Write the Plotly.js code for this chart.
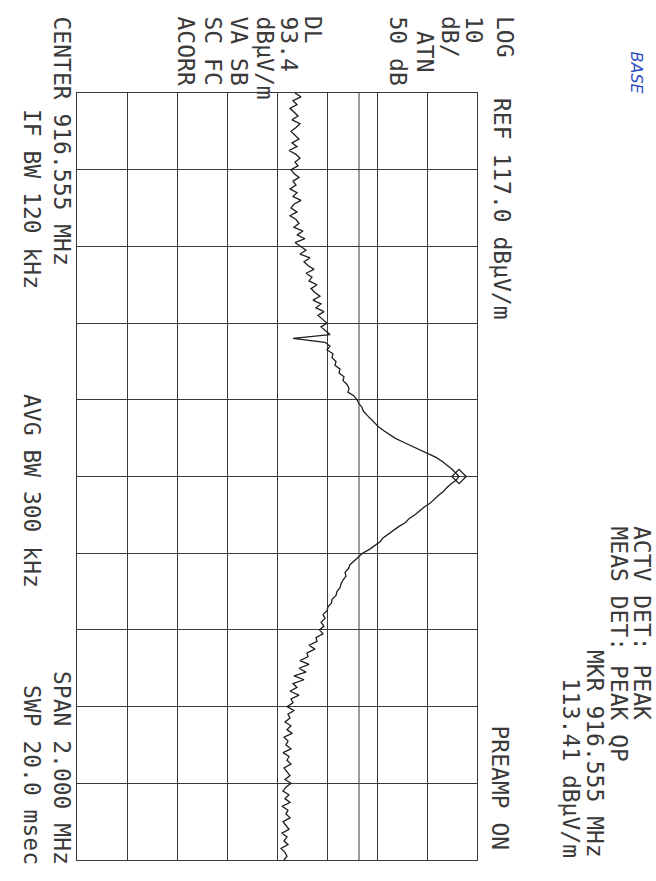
<!DOCTYPE html>
<html>
<head>
<meta charset="utf-8">
<script src="https://cdn.plot.ly/plotly-3.0.1.min.js"></script>
<style>html,body{margin:0;padding:0;background:#fff;}#chart{width:656px;height:881px;}</style>
</head>
<body>
<div id="chart"></div>
<script>
// ---- instrument settings ----
const startFreqMHz = 915.555;
const centerFreqMHz = 916.555;
const spanMHz = 2.0;
const refLevel = 117.0;      // dBuV/m (top of screen)
const dbPerDiv = 10;
const numDivsAmp = 8;
const numDivsFreq = 10;
const displayLine = 93.4;    // DL
const markerFreq = 916.555;
const markerAmp = 113.41;

// ---- trace amplitudes (dBuV/m), 201 sweep points ----
const amplitude = [
 80.6,81.8,80.2,81.0,79.6,80.4,81.2,80.0,81.6,80.8,
 79.8,80.6,81.4,80.0,81.0,79.4,80.8,81.6,80.6,81.2,
 79.8,80.4,81.4,80.2,80.8,79.6,81.0,80.2,81.8,80.4,
 79.8,81.0,79.6,80.8,81.4,80.4,82.2,81.0,82.6,80.6,
 81.8,82.8,81.6,83.6,82.4,83.2,84.4,82.8,84.0,83.4,
 85.0,83.8,84.6,85.6,84.2,85.8,84.8,86.4,85.2,86.0,
 87.0,85.8,86.8,87.6,80.2,86.6,87.6,87.0,88.2,88.0,
 88.8,88.6,89.6,89.4,90.4,90.2,91.0,91.4,91.2,92.4,
 93.0,93.4,94.0,94.3,95.0,95.7,96.5,97.3,98.3,99.4,
 100.6,102.2,103.8,105.5,107.2,108.8,110.0,111.0,111.9,112.7,
 113.4,112.8,111.7,110.9,110.2,109.2,108.3,107.6,106.4,105.5,
 104.6,103.4,102.7,101.4,100.3,99.4,98.2,97.6,96.6,95.5,
 94.1,93.2,92.5,91.6,91.3,90.6,90.8,90.2,89.8,89.6,
 89.0,88.8,88.0,87.9,87.2,87.0,86.2,86.6,85.8,86.4,
 85.5,86.2,84.8,85.0,83.4,84.6,83.0,83.2,81.6,83.4,
 81.4,82.8,80.4,82.4,80.2,81.0,79.6,81.4,79.8,80.2,
 79.0,80.4,79.2,79.6,78.6,79.8,79.0,80.0,78.4,79.2,
 78.8,79.8,78.2,79.4,79.0,79.8,78.4,79.0,79.6,78.6,
 79.8,78.8,78.2,79.4,78.6,79.6,78.0,79.2,78.8,79.6,
 78.2,78.8,79.4,78.0,79.0,78.4,79.2,77.8,78.6,79.0,
 78.4
];

// ---- screen annotation text ----
const refLabel = "REF 117.0 dBμV/m";
const leftTopLabels = ["LOG", "10", "dB/", "ATN", "50 dB"];
const leftMidLabels = ["DL", "93.4", "dBμV/m", "VA SB", "SC FC", "ACORR"];
const bottomLeftLabels = ["CENTER 916.555 MHz", "IF BW 120 kHz"];
const bottomMidLabel = "AVG BW 300 kHz";
const bottomRightLabels = ["SPAN 2.000 MHz", "SWP 20.0 msec"];
const preampLabel = "PREAMP ON";
const detLabels = ["ACTV DET: PEAK", "MEAS DET: PEAK QP"];
const mkrLabels = ["MKR 916.555 MHz", "113.41 dBμV/m"];
const handNote = "BASE";

// sweep frequencies of the 201 points
const freq = amplitude.map((_, i) => startFreqMHz + i * spanMHz / (amplitude.length - 1));
const lowLevel = refLevel - dbPerDiv * numDivsAmp;

// ---- layout geometry (pixels) ----
const W = 656, H = 881;
const L = 77, R = 477, T = 93, B = 860;
const px = x => (x - L) / (R - L);
const py = y => (B - y) / (B - T);

const FONT = {family: "DejaVu Sans Mono, Liberation Mono, monospace", size: 23, color: "#3a3a3a"};

function ann(text, x, y, anchor, font) {
  return {
    text: text, xref: "paper", yref: "paper", x: px(x), y: py(y),
    xanchor: "center", yanchor: anchor, textangle: 90, showarrow: false,
    borderpad: 0, font: font || FONT
  };
}

const annotations = [];
annotations.push(ann(refLabel, 502, 97, "top"));
const leftTopX = [505, 474, 450, 425, 398];
const leftTopY = [15, 15, 15, 30, 15];
leftTopLabels.forEach((t, i) => annotations.push(ann(t, leftTopX[i], leftTopY[i], "top")));
const leftMidX = [313, 289, 265, 239, 213, 186];
leftMidLabels.forEach((t, i) => annotations.push(ann(t, leftMidX[i], 15, "top")));
annotations.push(ann(bottomLeftLabels[0], 62, 15, "top"));
annotations.push(ann(bottomLeftLabels[1], 32, 108, "top"));
annotations.push(ann(bottomMidLabel, 32, 393, "top"));
annotations.push(ann(bottomRightLabels[0], 62, 866, "bottom"));
annotations.push(ann(bottomRightLabels[1], 32, 866, "bottom"));
annotations.push(ann(preampLabel, 500, 851, "bottom"));
annotations.push(ann(detLabels[0], 642, 525, "top"));
annotations.push(ann(detLabels[1], 619, 525, "top"));
annotations.push(ann(mkrLabels[0], 595, 859, "bottom"));
annotations.push(ann(mkrLabels[1], 571, 859, "bottom"));
annotations.push(ann(handNote, 636, 50, "top",
  {family: "DejaVu Sans, sans-serif", size: 16, color: "#2f4fc4", style: "italic"}));

const traces = [
  {
    x: amplitude, y: freq, type: "scatter", mode: "lines",
    line: {color: "#1e1e1e", width: 1.3}, hoverinfo: "skip"
  },
  {
    x: [markerAmp], y: [markerFreq], type: "scatter", mode: "markers",
    marker: {symbol: "diamond-open", size: 11, color: "#1e1e1e", line: {width: 1.3, color: "#1e1e1e"}},
    hoverinfo: "skip"
  }
];

const gridColor = "#3a3a3a";
const layout = {
  width: W, height: H,
  margin: {l: L, r: W - R, t: T, b: H - B, pad: 0},
  paper_bgcolor: "#ffffff", plot_bgcolor: "#ffffff",
  showlegend: false,
  xaxis: {
    range: [lowLevel, refLevel], tick0: lowLevel, dtick: dbPerDiv,
    showgrid: true, gridcolor: gridColor, gridwidth: 1,
    showline: true, mirror: true, linecolor: gridColor, linewidth: 1,
    showticklabels: false, ticks: "", zeroline: false, fixedrange: true
  },
  yaxis: {
    range: [startFreqMHz + spanMHz, startFreqMHz], tick0: startFreqMHz, dtick: spanMHz / numDivsFreq,
    showgrid: true, gridcolor: gridColor, gridwidth: 1,
    showline: true, mirror: true, linecolor: gridColor, linewidth: 1,
    showticklabels: false, ticks: "", zeroline: false, fixedrange: true
  },
  shapes: [
    {type: "line", xref: "x", yref: "paper", x0: displayLine, x1: displayLine, y0: 0, y1: 1,
     line: {color: gridColor, width: 1}}
  ],
  annotations: annotations
};

Plotly.newPlot("chart", traces, layout, {staticPlot: true, displayModeBar: false});
</script>
</body>
</html>
